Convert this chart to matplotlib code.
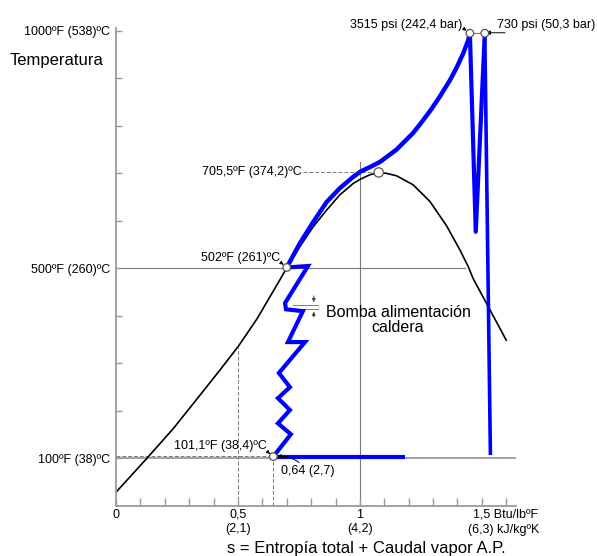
import matplotlib.pyplot as plt

plt.rcParams['font.family'] = ['Liberation Sans', 'DejaVu Sans']

# s in Btu/lb°F, T in °F
sat_s = [0.0, 0.126, 0.235, 0.344, 0.426, 0.5, 0.577, 0.672, 0.70, 0.754, 0.809, 0.864, 0.918,
         0.973, 1.003, 1.04, 1.077, 1.11, 1.15, 1.218, 1.287, 1.355, 1.41, 1.444, 1.464, 1.60]
sat_t = [29, 100, 163, 233, 286, 335, 393, 476, 501, 546, 588, 623, 655,
         679, 688, 697, 702, 700, 695, 676, 641, 590, 539, 504, 479, 349]

pump_s = [0.645, 0.717, 0.664, 0.713, 0.664, 0.713, 0.668, 0.775, 0.705, 0.766, 0.697, 0.693, 0.787, 0.70]
pump_t = [104, 151, 174, 202, 227, 250, 280, 345, 345, 410, 414, 427, 505, 502]

heat_s = [0.70, 0.754, 0.809, 0.864, 0.918, 0.973, 1.003, 1.04, 1.082, 1.15, 1.218, 1.246, 1.29,
          1.328, 1.369, 1.396, 1.424, 1.444, 1.451]
heat_t = [502, 553, 598, 640, 669, 693, 704, 713, 724, 750, 785, 803, 833,
          862, 896, 922, 953, 980, 995]

reheat_s = [1.451, 1.475, 1.512]
reheat_t = [995, 577, 995]

expan_s = [1.512, 1.535]
expan_t = [995, 111]

cond_s = [0.645, 1.184]
cond_t = [104, 104]

state_s = [0.645, 0.70, 1.077, 1.451, 1.512]
state_t = [104, 502, 702, 995, 995]

ytick_vals = [100, 200, 300, 400, 500, 600, 700, 800, 900, 1000]
ytick_text = {100: "100ºF (38)ºC", 500: "500ºF (260)ºC", 1000: "1000ºF (538)ºC"}
xtick_vals = [0.0, 0.1, 0.2, 0.3, 0.4, 0.5, 0.6, 0.7, 0.8, 0.9, 1.0, 1.1, 1.2, 1.3, 1.4, 1.5, 1.6]
xtick_text = {0.0: "0", 0.5: "0,5\n(2,1)", 1.0: "1\n(4,2)"}

grey = '#9a9a9a'
line_grey = '#7a7a7a'
blue = '#0000ff'

fig = plt.figure(figsize=(5.97, 5.56), dpi=100)
ax = fig.add_axes([116 / 597, 50 / 556, 400 / 597, 478 / 556])
ax.set_xlim(0, 1.64)
ax.set_ylim(0, 1006)

for side in ['top', 'right']:
    ax.spines[side].set_visible(False)
for side in ['left', 'bottom']:
    ax.spines[side].set_color(grey)
    ax.spines[side].set_linewidth(1.3)

ax.set_yticks(ytick_vals)
ax.set_yticklabels([ytick_text.get(v, "") for v in ytick_vals], fontsize=9)
ax.set_xticks(xtick_vals)
ax.set_xticklabels([xtick_text.get(v, "") for v in xtick_vals], fontsize=9)
ax.tick_params(axis='y', direction='in', length=4, color=grey, width=1, pad=4)
ax.tick_params(axis='x', direction='in', length=6, color=grey, width=1, pad=2)

# reference lines
ax.plot([0, 1.43], [500, 500], color=line_grey, lw=0.8, zorder=1)
ax.plot([0, 1.64], [100, 100], color=grey, lw=1.3, zorder=1)
ax.plot([0, state_s[0]], [105, 105], color=line_grey, lw=0.7, ls=(0, (4, 2)), zorder=1)
ax.plot([1.0, 1.0], [0, 724], color=line_grey, lw=0.8, zorder=1)
ax.plot([0.5, 0.5], [0, 335], color=line_grey, lw=0.7, ls=(0, (4, 2)), zorder=1)
ax.plot([state_s[0], state_s[0]], [0, 104], color=line_grey, lw=0.7, ls=(0, (4, 2)), zorder=1)
ax.plot([0.766, state_s[2]], [702, 702], color=line_grey, lw=0.7, ls=(0, (4, 2)), zorder=1)
ax.plot([state_s[3], state_s[4]], [996, 996], color=line_grey, lw=0.8, zorder=1)

# saturation dome
ax.plot(sat_s, sat_t, color='black', lw=1.2, zorder=2)

# cycle
ax.plot(cond_s, cond_t, color=blue, lw=3, solid_capstyle='butt', zorder=3)
ax.plot(pump_s, pump_t, color=blue, lw=3, solid_joinstyle='miter', zorder=3)
ax.plot(heat_s, heat_t, color=blue, lw=3.2, solid_joinstyle='round', zorder=3)
ax.plot(reheat_s, reheat_t, color=blue, lw=3, zorder=3)
ax.plot(expan_s, expan_t, color=blue, lw=2.6, zorder=3)

ax.scatter(state_s, state_t, s=[30, 30, 45, 30, 30], facecolor='white', edgecolor='#555555',
           linewidth=0.9, zorder=5)

# pump step marks
ax.plot([0.725, 0.828], [423, 423], color=line_grey, lw=0.7, zorder=1)
ax.plot([0.755, 0.828], [415, 415], color=line_grey, lw=0.7, zorder=1)
ax.annotate('', xy=(0.811, 423), xytext=(0.811, 448),
            arrowprops=dict(arrowstyle='-|>', color='#444444', lw=0.7, mutation_scale=5))
ax.annotate('', xy=(0.811, 415), xytext=(0.811, 392),
            arrowprops=dict(arrowstyle='-|>', color='#444444', lw=0.7, mutation_scale=5))

small = dict(arrowstyle='-|>', color='black', lw=0.7, mutation_scale=5,
             connectionstyle='arc3,rad=-0.3', shrinkA=0, shrinkB=3)

ax.annotate("3515 psi (242,4 bar)", xy=(state_s[3], state_t[3]), xytext=(1.418, 1013),
            ha='right', va='center', fontsize=9, annotation_clip=False, arrowprops=small)
ax.annotate("730 psi (50,3 bar)", xy=(1.59, 1013), ha='left', va='center', fontsize=9,
            xytext=(1.561, 1013), annotation_clip=False)
ax.annotate('', xy=(state_s[4] + 0.005, 996), xytext=(1.595, 996), annotation_clip=False,
            arrowprops=dict(arrowstyle='-|>', color='black', lw=0.7, mutation_scale=6, shrinkA=0, shrinkB=0))
ax.text(0.762, 702, "705,5ºF (374,2)ºC", ha='right', va='center', fontsize=9)
ax.annotate("502ºF (261)ºC", xy=(state_s[1], state_t[1]), xytext=(0.672, 522),
            ha='right', va='center', fontsize=9, arrowprops=small)
ax.annotate("101,1ºF (38,4)ºC", xy=(state_s[0], state_t[0]), xytext=(0.619, 126),
            ha='right', va='center', fontsize=9, arrowprops=small)
ax.annotate("0,64 (2,7)", xy=(state_s[0], state_t[0]), xytext=(0.676, 73),
            ha='left', va='center', fontsize=9,
            arrowprops=dict(arrowstyle='-|>', color='black', lw=0.7, mutation_scale=5,
                            connectionstyle='arc3,rad=0.3', shrinkA=0, shrinkB=3))
ax.text(1.156, 391, "Bomba alimentación\ncaldera", ha='center', va='center', fontsize=11.5,
        linespacing=1.0)

ax.text(1.463, -17, "1,5 Btu/lbºF", ha='left', va='center', fontsize=9, clip_on=False)
ax.text(1.443, -51, "(6,3) kJ/kgºK", ha='left', va='center', fontsize=9, clip_on=False)
ax.text(1.025, -89, "s = Entropía total + Caudal vapor A.P.", ha='center', va='center',
        fontsize=12, clip_on=False)
fig.text(10 / 597, 1 - 60 / 556, "Temperatura", ha='left', va='center', fontsize=12)

plt.savefig("out.png", dpi=100)
